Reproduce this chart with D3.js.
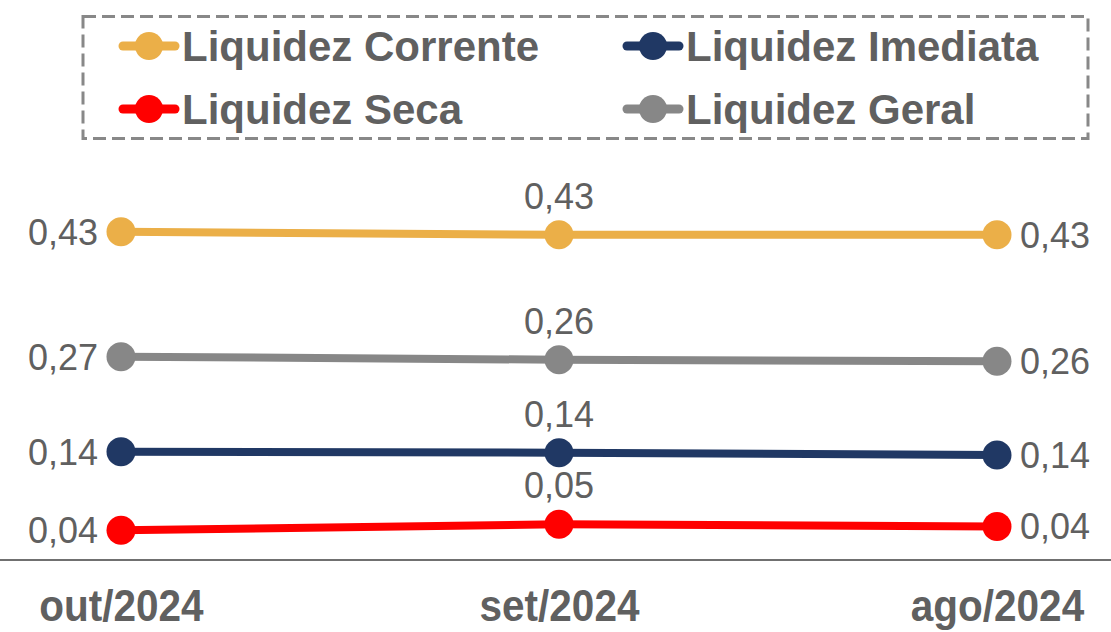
<!DOCTYPE html>
<html><head><meta charset="utf-8">
<script src="https://cdn.jsdelivr.net/npm/d3@7"></script>
<style>html,body{margin:0;padding:0;background:#fff;}svg{display:block;}</style>
</head><body>
<svg id="c" width="1111" height="632"></svg>
<script>
const categories = ["out/2024", "set/2024", "ago/2024"];
const seriesNames = ["Liquidez Corrente", "Liquidez Imediata", "Liquidez Seca", "Liquidez Geral"];
const corrente = [0.431, 0.427, 0.427];
const imediata = [0.142, 0.141, 0.138];
const seca = [0.039, 0.047, 0.044];
const geral = [0.267, 0.263, 0.261];
const colors = ["#EBAF48", "#203864", "#FF0000", "#878787"];

const series = [
  {name: seriesNames[0], values: corrente, color: colors[0]},
  {name: seriesNames[1], values: imediata, color: colors[1]},
  {name: seriesNames[2], values: seca, color: colors[2]},
  {name: seriesNames[3], values: geral, color: colors[3]}
];
const drawOrder = [series[3], series[0], series[1], series[2]];

const svg = d3.select("#c");
const textColor = "#606060";
const x = d3.scalePoint().domain(categories).range([121, 997]);
const y = d3.scaleLinear().domain([0, 0.5]).range([560, 179.25]);
const fmt = v => d3.format(".2f")(v).replace(".", ",");

// axis baseline
const xAxis = d3.axisBottom(x).tickSize(0).tickFormat(d => d);
const gx = svg.append("g").attr("transform", `translate(0,${y(0)})`).call(xAxis);
gx.select(".domain").remove();
svg.append("line").attr("x1", 0).attr("x2", 1111).attr("y1", y(0)).attr("y2", y(0))
  .attr("stroke", "#404040").attr("stroke-width", 1.5);
gx.selectAll(".tick text")
  .attr("fill", textColor)
  .attr("font-family", "'Liberation Sans', Arial, sans-serif")
  .attr("font-weight", "bold")
  .attr("font-size", 45)
  .attr("y", 61)
  .attr("dy", 0)
  .attr("transform", "scale(0.9,1)");

const line = d3.line().x((d, i) => x(categories[i])).y(d => y(d));

drawOrder.forEach(s => {
  const g = svg.append("g");
  g.append("path").datum(s.values).attr("d", line)
    .attr("fill", "none").attr("stroke", s.color).attr("stroke-width", 8);
  g.selectAll("circle").data(s.values).join("circle")
    .attr("cx", (d, i) => x(categories[i])).attr("cy", d => y(d)).attr("r", 14.5)
    .attr("fill", s.color);
  g.selectAll("text").data(s.values).join("text")
    .attr("x", (d, i) => i === 0 ? x(categories[i]) - 23 : i === 1 ? x(categories[i]) : x(categories[i]) + 23)
    .attr("y", (d, i) => i === 1 ? y(d) - 26 : y(d) + 13)
    .attr("text-anchor", (d, i) => i === 0 ? "end" : i === 1 ? "middle" : "start")
    .attr("font-family", "'Liberation Sans', Arial, sans-serif")
    .attr("font-size", 36)
    .attr("fill", textColor)
    .text(d => fmt(d));
});

// legend
svg.append("rect").attr("x", 83).attr("y", 16.5).attr("width", 1005).attr("height", 122)
  .attr("fill", "none").attr("stroke", "#888888").attr("stroke-width", 3)
  .attr("stroke-dasharray", "13,6");
const legPos = [[149, 46], [653, 46], [149, 109], [653, 109]];
series.forEach((s, i) => {
  const [cx, cy] = legPos[i];
  const g = svg.append("g");
  g.append("line").attr("x1", cx - 26).attr("x2", cx + 26).attr("y1", cy).attr("y2", cy)
    .attr("stroke", s.color).attr("stroke-width", 9).attr("stroke-linecap", "round");
  g.append("circle").attr("cx", cx).attr("cy", cy).attr("r", 14).attr("fill", s.color);
  g.append("text").attr("x", cx + 33).attr("y", cy + 15)
    .attr("font-family", "'Liberation Sans', Arial, sans-serif")
    .attr("font-weight", "bold").attr("font-size", 42)
    .attr("fill", textColor).text(s.name);
});
</script>
</body></html>
